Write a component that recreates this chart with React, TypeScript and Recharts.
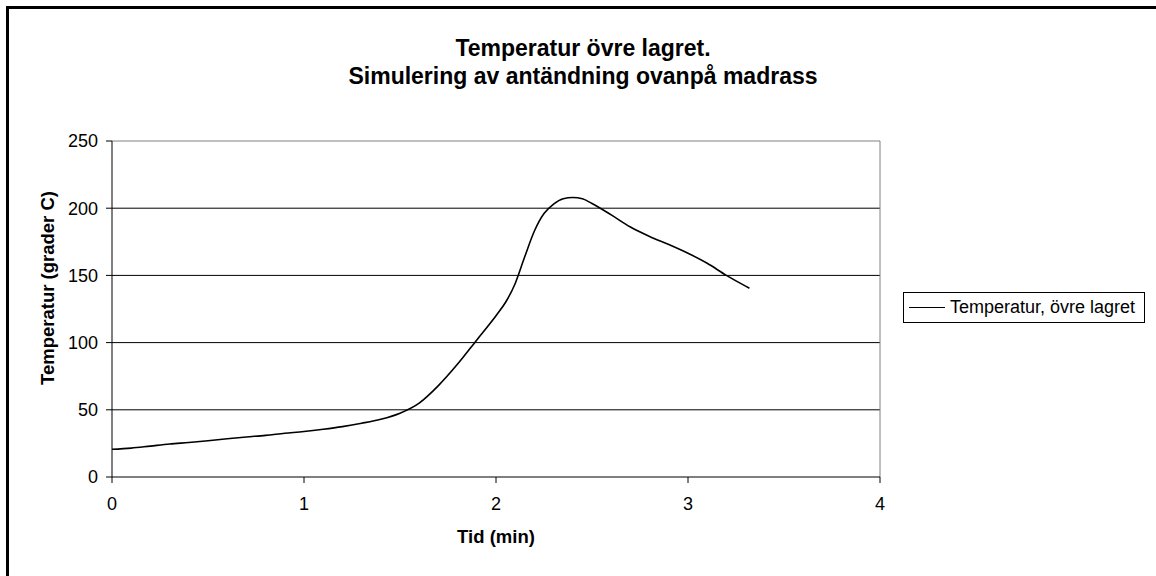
import React from "react"
import { LineChart, Line, XAxis, YAxis, ReferenceLine } from "recharts"

// tid i minuter och temperatur i övre lagret (grader C)
const tid = [
  0, 0.1, 0.2, 0.3, 0.4, 0.5, 0.6, 0.7, 0.8, 0.9, 1.0, 1.1, 1.2, 1.3, 1.4, 1.5, 1.6, 1.7, 1.8, 1.9, 2.0,
  2.05, 2.1, 2.15, 2.2, 2.25, 2.3, 2.35, 2.4, 2.45, 2.5, 2.6, 2.7, 2.8, 2.9, 3.0, 3.1, 3.2, 3.3, 3.32,
]
const temperatur = [
  20.6, 21.5, 23, 24.5, 25.7, 27, 28.5, 29.8, 31, 32.5, 33.8, 35.5, 37.5, 40, 43, 47.5, 55, 68, 84, 102, 120,
  130, 144, 164, 183, 196, 203, 207, 208, 207, 203.5, 195, 186, 179, 173, 166.5, 159, 150, 142, 140.5,
]
const xTicks = [0, 1, 2, 3, 4]
const yTicks = [0, 50, 100, 150, 200, 250]
const gridValues = [50, 100, 150, 200]

const titleLines = ["Temperatur övre lagret.", "Simulering av antändning ovanpå madrass"]
const seriesName = "Temperatur, övre lagret"

const data = tid.map((t, i) => ({ tid: t, temp: temperatur[i] }))

const FONT = '"Liberation Sans", Arial, sans-serif'

function LegendBox() {
  return (
    <div
      style={{
        position: "absolute",
        left: 903,
        top: 292,
        width: 242,
        height: 31,
        boxSizing: "border-box",
        border: "1px solid #000",
        background: "#fff",
        display: "flex",
        alignItems: "center",
        paddingLeft: 5,
        fontFamily: FONT,
        fontSize: 18,
        color: "#000",
        whiteSpace: "nowrap",
      }}
    >
      <span style={{ display: "inline-block", width: 36, borderTop: "1px solid #000", marginRight: 5 }} />
      <span>{seriesName}</span>
    </div>
  )
}

export default function App() {
  return (
    <div style={{ position: "fixed", left: 0, top: 0, width: 1156, height: 576, background: "#fff" }}>
      <LineChart
        width={1156}
        height={576}
        data={data}
        margin={{ top: 141, right: 276, left: 52, bottom: 69 }}
      >
        {gridValues.map((v) => (
          <ReferenceLine key={v} y={v} stroke="#000" strokeWidth={1} />
        ))}
        <ReferenceLine y={250} stroke="#808080" strokeWidth={1} />
        <ReferenceLine x={4} stroke="#808080" strokeWidth={1} />
        <XAxis
          type="number"
          dataKey="tid"
          domain={[0, 4]}
          ticks={xTicks}
          height={30}
          stroke="#000"
          tickSize={6}
          tickMargin={14}
          tick={{ fill: "#000", fontSize: 18, fontFamily: FONT }}
          label={{
            content: ({ viewBox }: any) => (
              <text
                x={viewBox.x + viewBox.width / 2}
                y={543}
                textAnchor="middle"
                fontFamily={FONT}
                fontSize={18.5}
                fontWeight="bold"
                fill="#000"
              >
                Tid (min)
              </text>
            ),
          }}
        />
        <YAxis
          type="number"
          domain={[0, 250]}
          ticks={yTicks}
          width={60}
          stroke="#000"
          tickSize={6}
          tickMargin={8}
          tick={{ fill: "#000", fontSize: 18, fontFamily: FONT }}
          label={{
            content: () => (
              <text
                transform="translate(54, 288) rotate(-90)"
                textAnchor="middle"
                fontFamily={FONT}
                fontSize={18.5}
                fontWeight="bold"
                fill="#000"
              >
                Temperatur (grader C)
              </text>
            ),
          }}
        />
        <Line
          type="monotone"
          dataKey="temp"
          name={seriesName}
          stroke="#000"
          strokeWidth={1.6}
          dot={false}
          isAnimationActive={false}
        />
      </LineChart>
      <LegendBox />
      <svg
        width={1156}
        height={576}
        style={{ position: "absolute", left: 0, top: 0, pointerEvents: "none" }}
      >
        <path d="M7.5 576 L7.5 7.5 L1156 7.5" fill="none" stroke="#000" strokeWidth={3} />
        {titleLines.map((line, i) => (
          <text
            key={line}
            x={583}
            y={56 + i * 28}
            textAnchor="middle"
            fontFamily={FONT}
            fontSize={23}
            fontWeight="bold"
            fill="#000"
          >
            {line}
          </text>
        ))}
      </svg>
    </div>
  )
}
